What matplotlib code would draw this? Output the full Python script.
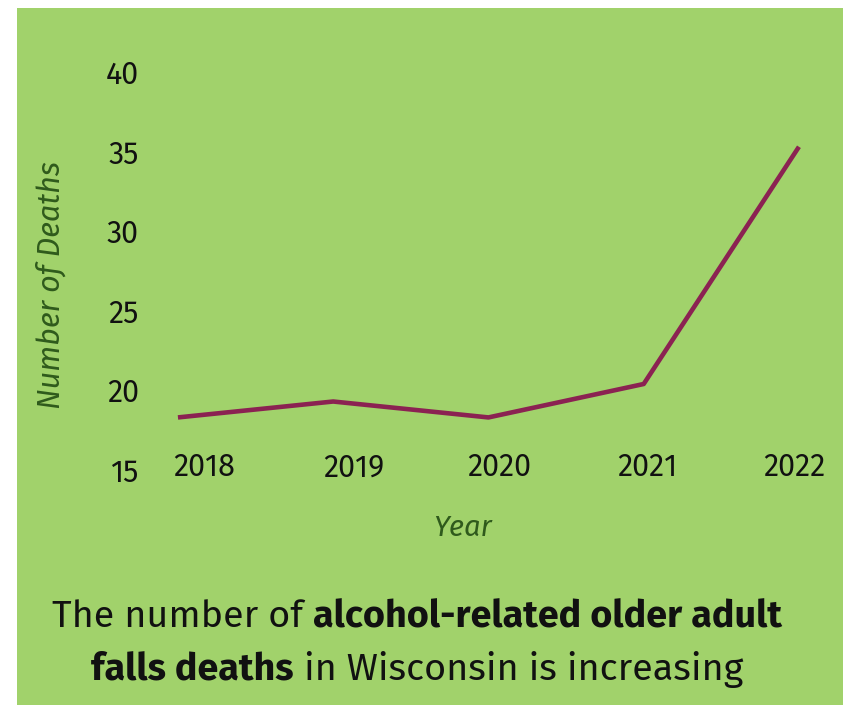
import matplotlib
matplotlib.use("Agg")
import matplotlib.pyplot as plt
from matplotlib import font_manager

# Alcohol-related older adult falls deaths, Wisconsin
years = ["2018", "2019", "2020", "2021", "2022"]
deaths = [18.3, 19.3, 18.3, 20.4, 35.3]
y_ticks = [15, 20, 25, 30, 35, 40]
# where the year labels sit along the x axis
year_label_pos = [0.17, 1.13, 2.07, 3.02, 3.97]

bg = "#a1d26b"
line_color = "#8b2252"
label_green = "#2f5a1c"


def pick(*names):
    installed = {f.name for f in font_manager.fontManager.ttflist}
    for n in names:
        if n in installed:
            return n
    return "DejaVu Sans"


caption_font = pick("Fira Sans", "Open Sans")
main_font = pick("Fira Sans", "Open Sans")

W, H = 843, 705
fig = plt.figure(figsize=(W / 100, H / 100), dpi=100)
fig.patch.set_facecolor("white")

# green panel with a thin white margin on the left and top
fig.patches.append(plt.Rectangle((17 / W, 0), 1, 1 - 8 / H, transform=fig.transFigure,
                                 facecolor=bg, edgecolor="none", zorder=-5))

left, right, top, bottom = 150, 830, 60, 480
ax = fig.add_axes([left / W, 1 - bottom / H, (right - left) / W, (bottom - top) / H])
ax.set_zorder(2)
ax.patch.set_visible(False)

x = list(range(len(years)))
ax.plot(x, deaths, color=line_color, linewidth=3.3, solid_capstyle="butt", solid_joinstyle="round")

ax.set_xlim(-0.18, 4.2)
ax.set_ylim(14.37, 40.75)
ax.set_yticks(y_ticks)
ax.set_yticklabels([str(v) for v in y_ticks])
ax.set_xticks(year_label_pos)
ax.set_xticklabels(years)

for s in ax.spines.values():
    s.set_visible(False)
ax.tick_params(axis="both", length=0, colors="#111111", labelsize=22)
ax.tick_params(axis="y", pad=8)
ax.tick_params(axis="x", pad=-20)
for lab in ax.get_xticklabels() + ax.get_yticklabels():
    lab.set_fontfamily(main_font)

ax.set_ylabel("Number of Deaths", fontfamily=main_font, fontstyle="italic",
              fontsize=22, color=label_green)
ax.yaxis.set_label_coords(-0.146, 0.464)
ax.set_xlabel("Year", fontfamily=main_font, fontstyle="italic",
              fontsize=21, color=label_green)
ax.xaxis.set_label_coords(0.459, -0.114)
ax.xaxis.label.set_va("center")
ax.yaxis.label.set_va("center")

# two-line caption with bold runs, centred; size set so the first line spans ~730 px
caption = [
    [("The number of ", "normal"), ("alcohol-related older adult", "bold")],
    [("falls deaths", "bold"), (" in Wisconsin is increasing", "normal")],
]
baselines = [627, 680]
cx = 417
target_width = 730
renderer = fig.canvas.get_renderer()
lines = []
for runs, base in zip(caption, baselines):
    texts = [fig.text(0, 1 - base / H, s, fontfamily=caption_font, fontweight=w,
                      fontsize=24, color="#111111", va="baseline", ha="left")
             for s, w in runs]
    lines.append(texts)
first_w = sum(t.get_window_extent(renderer).width for t in lines[0])
size = 24 * target_width / first_w
for texts in lines:
    for t in texts:
        t.set_fontsize(size)
    widths = [t.get_window_extent(renderer).width for t in texts]
    xpos = cx - sum(widths) / 2
    for t, w in zip(texts, widths):
        t.set_x(xpos / W)
        xpos += w

fig.savefig("out.png", dpi=100, facecolor=fig.get_facecolor())
